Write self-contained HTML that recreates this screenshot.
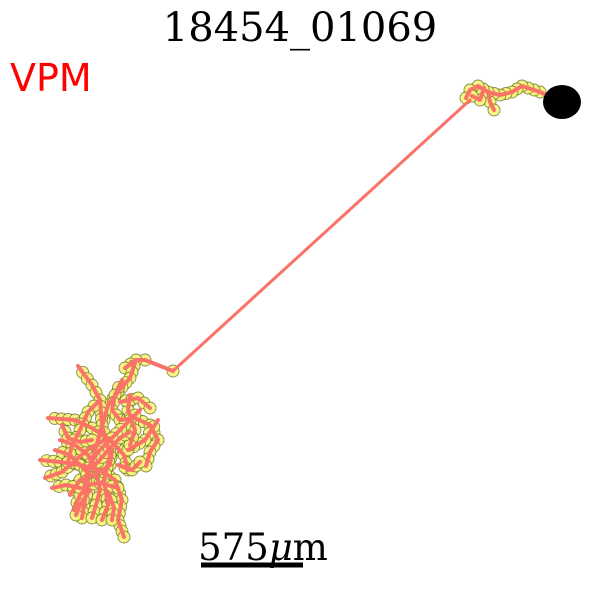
<!DOCTYPE html>
<html><head><meta charset="utf-8"><style>
body{margin:0;background:#fff}
svg{display:block}
</style></head><body>
<svg id="chart" width="600" height="600" viewBox="0 0 600 600" xmlns="http://www.w3.org/2000/svg">
<text x="300" y="41" text-anchor="middle" font-family="DejaVu Serif, Liberation Serif, serif" font-size="40">18454_01069</text>
<text x="10" y="91" font-family="DejaVu Sans, Liberation Sans, sans-serif" font-size="38" fill="#ff0000">VPM</text>
<g id="nodes"></g>
<g id="edges"></g>
<ellipse cx="562" cy="102" rx="19" ry="17" fill="#000"/>
<line x1="201" y1="565" x2="303" y2="565" stroke="#000" stroke-width="5"/>
<text x="263" y="560" text-anchor="middle" font-family="DejaVu Serif, Liberation Serif, serif" font-size="37">575<tspan font-style="italic">μ</tspan>m</text>
</svg>
<script>
const branches = [
  [[562,102],[540,92],[522,86],[512,92],[500,95],[488,92]],
  [[488,92],[478,86],[470,90],[466,98]],
  [[488,92],[490,102],[494,110]],
  [[484,88],[480,100],[472,96]],
  [[470,100],[173,371]],
  [[173,371],[145,360],[136,360],[125,368]],
  [[136,360],[130,378],[118,392],[108,405],[104,420],[98,440],[92,460],[88,480],[85,500],[82,518]],
  [[78,366],[92,385],[100,400],[102,425]],
  [[48,418],[75,420],[92,428],[110,440],[124,455],[128,470]],
  [[122,380],[115,395],[112,410],[120,420],[135,418],[150,425],[158,440],[150,452],[146,466]],
  [[158,420],[145,440],[128,450]],
  [[40,460],[60,462],[80,465],[100,470],[115,480],[122,500],[118,520],[124,537]],
  [[45,478],[62,472],[78,458],[90,448],[105,440]],
  [[60,440],[75,445],[88,455],[96,470],[100,490],[96,505],[92,518]],
  [[70,495],[80,480],[95,475],[110,465],[112,450]],
  [[102,425],[110,455],[104,480],[108,505],[102,520]],
  [[130,395],[128,410],[135,430],[130,445]],
  [[74,510],[80,495],[88,485],[100,483],[118,488]],
  [[55,450],[70,455],[85,470],[98,462],[110,448],[120,438],[130,432]],
  [[100,400],[88,412],[80,430],[72,445],[68,462]],
  [[140,410],[125,425],[112,438],[98,452],[88,468],[84,488]],
  [[62,425],[68,438],[80,442],[92,440]],
  [[120,402],[138,398],[150,408]],
  [[90,490],[80,505],[76,515]],
  [[108,492],[114,508],[112,520]],
  [[52,488],[66,485],[80,488]],
  [[118,465],[132,470],[140,462]]
];
const nodeLayer = document.getElementById('nodes');
const edgeLayer = document.getElementById('edges');
const NS = 'http://www.w3.org/2000/svg';
function addNode(x, y) {
  const c = document.createElementNS(NS, 'circle');
  c.setAttribute('cx', x);
  c.setAttribute('cy', y);
  c.setAttribute('r', '6');
  c.setAttribute('fill', '#f6f47a');
  c.setAttribute('fill-opacity', '0.9');
  c.setAttribute('stroke', '#6e6e28');
  c.setAttribute('stroke-opacity', '0.8');
  c.setAttribute('stroke-width', '0.9');
  
  
  nodeLayer.appendChild(c);
}
branches.forEach((b, bi) => {
  const pl = document.createElementNS(NS, 'polyline');
  pl.setAttribute('points', b.map(p => p.join(',')).join(' '));
  pl.setAttribute('fill', 'none');
  pl.setAttribute('stroke', '#fa7268');
  pl.setAttribute('stroke-width', bi === 4 ? '3' : '4');
  pl.setAttribute('stroke-linejoin', 'round');
  pl.setAttribute('stroke-linecap', 'round');
  
  
  edgeLayer.appendChild(pl);
  if (bi === 4) return;
  if (bi === 5) addNode(b[0][0], b[0][1]);
  for (let i = 1; i < b.length; i++) {
    const [x0, y0] = b[i - 1], [x1, y1] = b[i];
    const d = Math.hypot(x1 - x0, y1 - y0);
    const n = Math.max(1, Math.round(d / 7));
    for (let k = (i === 1 && bi === 0) ? 3 : 1; k <= n; k++) {
      if (bi === 5 && i === 1 && k < n) continue;
      addNode(x0 + (x1 - x0) * k / n, y0 + (y1 - y0) * k / n);
    }
  }
});
</script>
</body></html>
